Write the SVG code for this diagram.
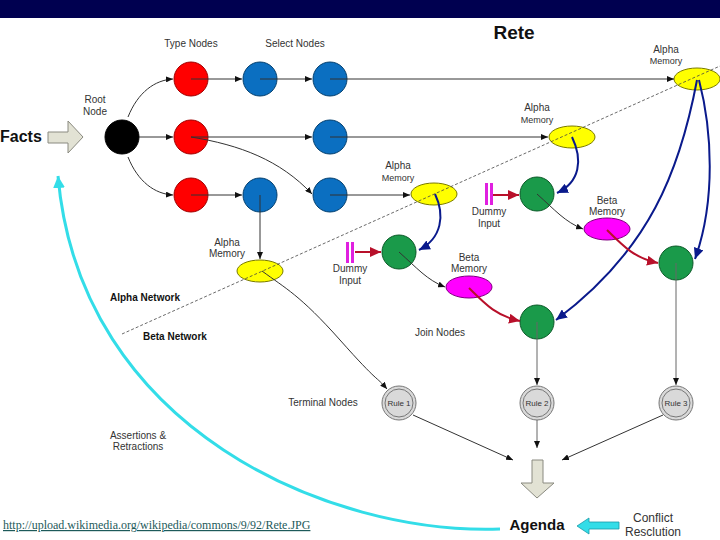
<svg xmlns="http://www.w3.org/2000/svg" width="720" height="540" viewBox="0 0 720 540">
<style>
text{font-family:"Liberation Sans",Arial,sans-serif;fill:#333}
.lbl{font-size:10px;text-anchor:middle}
.sm{font-size:9px;text-anchor:middle}
.bold{font-weight:bold;fill:#111}
.thin{fill:none;stroke:#333;stroke-width:1}
.gray{fill:none;stroke:#666;stroke-width:1}
.blue{fill:none;stroke:#0a1a8c;stroke-width:2}
.red{fill:none;stroke:#b8102a;stroke-width:2}
.rn{fill:#ff0000;stroke:#a00000}
.bn{fill:#0b6fc1;stroke:#04406f}
.gn{fill:#1a9a4a;stroke:#0b5a28}
.am{fill:#ffff00;stroke:#7a7a00}
.bm{fill:#ff00ff;stroke:#800080}
.rule{fill:#d9d9d9;stroke:#777;stroke-width:1}
.blk{fill:#e2e2d4;stroke:#8a8a80;stroke-width:1}
</style>
<defs>
<marker id="a" markerUnits="userSpaceOnUse" markerWidth="8" markerHeight="6" refX="7" refY="3" orient="auto"><path d="M0,0 L7,3 L0,6 z" fill="#111"/></marker>
<marker id="ab" markerUnits="userSpaceOnUse" markerWidth="12" markerHeight="10" refX="11" refY="5" orient="auto"><path d="M0,0 L11,5 L0,10 z" fill="#0a1a8c"/></marker>
<marker id="ar" markerUnits="userSpaceOnUse" markerWidth="12" markerHeight="10" refX="11" refY="5" orient="auto"><path d="M0,0 L11,5 L0,10 z" fill="#b8102a"/></marker>
<marker id="ac" markerUnits="userSpaceOnUse" markerWidth="14" markerHeight="12" refX="12" refY="6" orient="auto"><path d="M0,0 L12,6 L0,12 z" fill="#33dde8"/></marker>
</defs>
<rect x="0" y="0" width="720" height="540" fill="#fff"/>
<rect x="0" y="0" width="720" height="18" fill="#000050"/>

<text x="514" y="39" class="bold" style="font-size:19px;text-anchor:middle">Rete</text>
<text x="0" y="142" class="bold" style="font-size:16px">Facts</text>
<text x="191" y="47" class="lbl">Type Nodes</text>
<text x="295" y="47" class="lbl">Select Nodes</text>
<text x="95" y="103" class="lbl">Root</text>
<text x="95" y="115" class="lbl">Node</text>
<text x="666" y="53" class="lbl">Alpha</text>
<text x="666" y="64" class="sm">Memory</text>
<text x="537" y="111" class="lbl">Alpha</text>
<text x="537" y="123" class="sm">Memory</text>
<text x="398" y="169" class="lbl">Alpha</text>
<text x="398" y="181" class="sm">Memory</text>
<text x="227" y="246" class="lbl">Alpha</text>
<text x="227" y="257" class="lbl">Memory</text>
<text x="607" y="204" class="lbl">Beta</text>
<text x="607" y="215" class="lbl">Memory</text>
<text x="469" y="261" class="lbl">Beta</text>
<text x="469" y="272" class="lbl">Memory</text>
<text x="489" y="215" class="lbl">Dummy</text>
<text x="489" y="227" class="lbl">Input</text>
<text x="350" y="272" class="lbl">Dummy</text>
<text x="350" y="284" class="lbl">Input</text>
<text x="110" y="301" class="bold" style="font-size:10px">Alpha Network</text>
<text x="143" y="340" class="bold" style="font-size:10px">Beta Network</text>
<text x="440" y="336" class="lbl">Join Nodes</text>
<text x="323" y="406" class="lbl">Terminal Nodes</text>
<text x="138" y="439" class="lbl">Assertions &amp;</text>
<text x="138" y="450" class="lbl">Retractions</text>
<text x="537" y="530" class="bold" style="font-size:15px;text-anchor:middle">Agenda</text>
<text x="653" y="522" style="font-size:12px;text-anchor:middle">Conflict</text>
<text x="653" y="536" style="font-size:12px;text-anchor:middle">Resclution</text>
<text x="3" y="529" style="font-family:'Liberation Serif','Times New Roman',serif;font-size:12px;fill:#1d5a5a;text-decoration:underline">http://upload.wikimedia.org/wikipedia/commons/9/92/Rete.JPG</text>

<g id="facts-arrow"><path class="blk" d="M48,132 L68,132 L68,121 L83,137 L68,153 L68,143 L48,143 z"/></g>
<g id="agenda-arrow"><path class="blk" d="M532,460 L543,460 L543,483 L554,483 L537,498 L521,483 L532,483 z"/></g>
<g id="conflict-arrow"><path d="M619,522 L589,522 L589,518 L577,526 L589,534 L589,529 L619,529 z" fill="#33dde8" stroke="#1a9aa8" stroke-width="0.8"/></g>

<g id="root"><circle cx="122" cy="137" r="17" fill="#000" stroke="#000"/></g>
<g id="type1"><circle cx="191" cy="79" r="17" class="rn"/></g>
<g id="type2"><circle cx="191" cy="137" r="17" class="rn"/></g>
<g id="type3"><circle cx="191" cy="195" r="17" class="rn"/></g>
<g id="sel1a"><circle cx="260" cy="79" r="17" class="bn"/></g>
<g id="sel1b"><circle cx="330" cy="79" r="17" class="bn"/></g>
<g id="sel2"><circle cx="330" cy="137" r="17" class="bn"/></g>
<g id="sel3a"><circle cx="260" cy="195" r="17" class="bn"/></g>
<g id="sel3b"><circle cx="330" cy="195" r="17" class="bn"/></g>
<g id="am1"><ellipse cx="697" cy="79" rx="23" ry="11" class="am"/></g>
<g id="am2"><ellipse cx="572" cy="137" rx="23" ry="11" class="am"/></g>
<g id="am3"><ellipse cx="434" cy="194" rx="23" ry="11" class="am"/></g>
<g id="am4"><ellipse cx="260" cy="271" rx="23" ry="11" class="am"/></g>
<g id="join1"><circle cx="537" cy="194" r="17" class="gn"/></g>
<g id="join2"><circle cx="399" cy="252" r="17" class="gn"/></g>
<g id="join3"><circle cx="537" cy="322" r="17" class="gn"/></g>
<g id="join4"><circle cx="676" cy="263" r="17" class="gn"/></g>
<g id="bm1"><ellipse cx="607" cy="229" rx="23" ry="11" class="bm"/></g>
<g id="bm2"><ellipse cx="469" cy="287" rx="23" ry="11" class="bm"/></g>
<g id="dummy1"><rect x="485" y="183" width="3" height="22" fill="#e020e0"/><rect x="490" y="183" width="3" height="22" fill="#e020e0"/></g>
<g id="dummy2"><rect x="346" y="242" width="3" height="21" fill="#e020e0"/><rect x="351" y="242" width="3" height="21" fill="#e020e0"/></g>
<g id="rule1"><circle cx="399" cy="403" r="17" class="rule"/><circle cx="399" cy="403" r="14" class="rule"/><text x="399" y="406" style="font-size:8px;text-anchor:middle">Rule 1</text></g>
<g id="rule2"><circle cx="537" cy="403" r="17" class="rule"/><circle cx="537" cy="403" r="14" class="rule"/><text x="537" y="406" style="font-size:8px;text-anchor:middle">Rule 2</text></g>
<g id="rule3"><circle cx="676" cy="403" r="17" class="rule"/><circle cx="676" cy="403" r="14" class="rule"/><text x="676" y="406" style="font-size:8px;text-anchor:middle">Rule 3</text></g>

<path d="M122,334 L720,66" fill="none" stroke="#444" stroke-width="0.8" stroke-dasharray="3,2"/>

<g id="connectors">
<path class="thin" d="M128,117 C138,92 155,80 173,79" marker-end="url(#a)"/>
<path class="thin" d="M139,137 L173,137" marker-end="url(#a)"/>
<path class="thin" d="M128,157 C138,182 155,194 173,195" marker-end="url(#a)"/>
<path class="thin" d="M191,79 L242,79" marker-end="url(#a)"/>
<path class="thin" d="M260,79 L312,79" marker-end="url(#a)"/>
<path class="thin" d="M330,79 L674,79" marker-end="url(#a)"/>
<path class="thin" d="M191,137 L312,137" marker-end="url(#a)"/>
<path class="thin" d="M330,137 L548,137" marker-end="url(#a)"/>
<path class="thin" d="M191,137 C240,145 280,160 312,194" marker-end="url(#a)"/>
<path class="thin" d="M191,195 L242,195" marker-end="url(#a)"/>
<path class="thin" d="M260,195 L260,259" marker-end="url(#a)"/>
<path class="thin" d="M330,195 L410,195" marker-end="url(#a)"/>
<path class="thin" d="M262,271 C285,288 300,295 340,340 S375,375 387,389" marker-end="url(#a)"/>
<path class="thin" d="M537,194 C555,210 565,222 583,229" marker-end="url(#a)"/>
<path class="thin" d="M399,252 C417,268 427,280 445,287" marker-end="url(#a)"/>
<path class="gray" d="M537,322 L537,385" marker-end="url(#a)"/>
<path class="gray" d="M676,263 L676,385" marker-end="url(#a)"/>
<path class="thin" d="M413,415 L513,460" marker-end="url(#a)"/>
<path class="gray" d="M537,420 L537,448" marker-end="url(#a)"/>
<path class="thin" d="M663,415 L562,460" marker-end="url(#a)"/>
<path class="blue" d="M435,194 C445,215 442,238 419,250" marker-end="url(#ab)"/>
<path class="blue" d="M572,137 C583,160 580,182 557,193" marker-end="url(#ab)"/>
<path class="blue" d="M699,80 C712,130 716,200 695,259" marker-end="url(#ab)"/>
<path class="blue" d="M697,80 C680,170 650,250 556,320" marker-end="url(#ab)"/>
<path class="red" d="M607,230 C625,248 635,258 658,263" marker-end="url(#ar)"/>
<path class="red" d="M469,288 C487,306 497,316 520,321" marker-end="url(#ar)"/>
<path class="red" d="M493,195 L519,195" marker-end="url(#ar)"/>
<path class="red" d="M355,252 L381,252" marker-end="url(#ar)"/>
<path d="M500,529 C330,535 80,430 58,176" fill="none" stroke="#33dde8" stroke-width="3" marker-end="url(#ac)"/>
</g>
</svg>
